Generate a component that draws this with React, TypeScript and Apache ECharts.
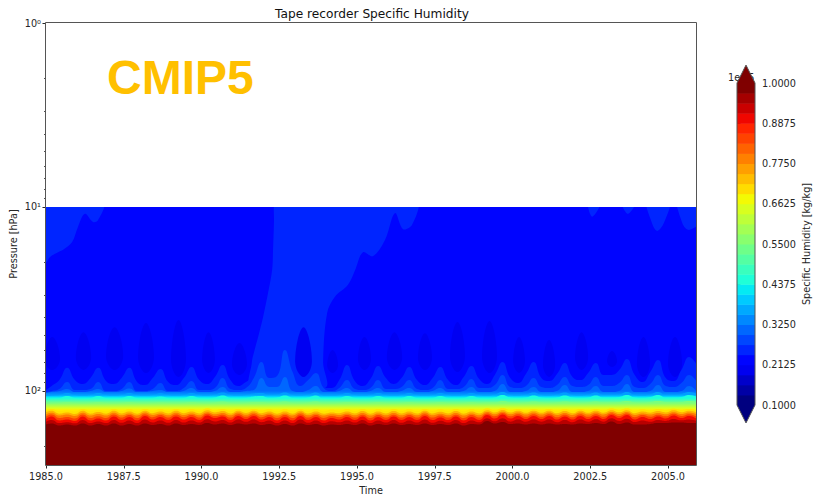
import React, { useEffect, useRef } from "react";
import * as echarts from "echarts";

// ---- axes and labels ----
const titleText = "Tape recorder Specific Humidity";
const xName = "Time";
const yName = "Pressure [hPa]";
const cbName = "Specific Humidity [kg/kg]";
const xTicks = [1985, 1987.5, 1990, 1992.5, 1995, 1997.5, 2000, 2002.5, 2005];
const yTicks = [1, 10, 100];
const yTickLabels: Record<string, string> = { "1": "10⁰", "10": "10¹", "100": "10²" };
const yMinorTicks = [2, 3, 4, 5, 6, 7, 8, 9, 20, 30, 40, 50, 60, 70, 80, 90, 200];
const cbTicks = [0.1, 0.2125, 0.325, 0.4375, 0.55, 0.6625, 0.775, 0.8875, 1.0];
const YEARS = 21;

// ---- sample times of the contour lines ----
const times: number[] = [1985];
for (let y = 0; y < YEARS; y++) for (const f of [0.18, 0.43, 0.68, 0.93]) times.push(1985 + y + f);

// ---- contour pressures in hPa, 1985.0 then four samples per year ----
const contour1 = [98.8,
  93.9, 87.2, 74.9, 87.2, 91.6, 85.0, 74.9, 88.2, 91.6, 85.0, 74.9, 89.3, 92.8, 85.0, 75.9, 89.3,
  92.8, 85.0, 74.0, 87.2, 91.6, 83.9, 72.2, 87.2, 93.9, 89.3, 85.0, 85.0, 85.0, 85.0, 85.0, 88.2,
  93.9, 90.5, 85.0, 96.3, 96.3, 87.2, 72.2, 88.2, 93.9, 86.1, 73.1, 85.0, 91.6, 85.0, 74.0, 87.2,
  92.8, 85.0, 74.0, 87.2, 92.8, 83.9, 73.1, 86.1, 91.6, 81.8, 69.6, 85.0, 90.5, 80.8, 69.6, 85.0,
  88.2, 80.8, 70.4, 83.9, 87.2, 79.8, 70.4, 81.8, 81.8, 76.9, 67.0, 81.8, 89.3, 78.8, 67.8, 85.0,
  88.2, 76.9, 65.3, 72.2];
const contour2 = [101.3,
  100, 97.5, 89.3, 98.8, 98.8, 97.5, 89.3, 100, 100, 97.5, 89.3, 100, 100, 97.5, 90.5, 100,
  100, 96.3, 88.2, 98.8, 98.8, 96.3, 85.0, 97.5, 98.8, 96.3, 85.0, 69.6, 85.0, 82.9, 59.9, 78.8,
  93.9, 87.2, 79.8, 96.3, 100, 96.3, 87.2, 97.5, 98.8, 96.3, 87.2, 97.5, 97.5, 95.1, 87.2, 97.5,
  98.8, 96.3, 87.2, 97.5, 97.5, 95.1, 86.1, 96.3, 96.3, 92.8, 81.8, 95.1, 96.3, 93.9, 85.0, 95.1,
  96.3, 92.8, 83.9, 93.9, 95.1, 92.8, 83.9, 93.9, 93.9, 90.5, 81.8, 95.1, 96.3, 91.6, 81.8, 93.9,
  95.1, 90.5, 81.8, 89.3];
const contour3 = [102.5,
  101.3, 100, 97.5, 101.3, 101.3, 100, 97.5, 101.3, 101.3, 100, 96.9, 101.3, 101.3, 100, 98.8, 101.3,
  101.3, 100, 96.3, 101.3, 101.3, 100, 95.1, 101.3, 101.3, 100, 98.8, 85.0, 95.1, 95.1, 83.9, 100,
  101.3, 98.8, 93.9, 101.3, 101.3, 100, 96.3, 101.3, 101.3, 100, 96.3, 101.3, 101.3, 100, 96.3, 101.3,
  101.3, 100, 96.3, 101.3, 101.3, 100, 95.1, 101.3, 101.3, 100, 91.6, 101.3, 101.3, 100, 95.1, 101.3,
  101.3, 100, 92.8, 101.3, 101.3, 100, 93.9, 101.3, 101.3, 100, 91.6, 101.3, 101.3, 100, 92.8, 101.3,
  101.3, 100, 93.9, 101.3];
const contour4 = [106.5,
  105.8, 105.1, 102.5, 105.1, 105.8, 105.1, 102.5, 105.1, 105.8, 105.1, 102.5, 105.1, 105.8, 105.1, 102.9, 105.1,
  105.8, 105.1, 102.5, 105.1, 105.8, 104.5, 101.9, 105.1, 105.8, 105.1, 103.2, 102.5, 105.1, 104.5, 101.9, 105.1,
  105.8, 104.5, 101.9, 105.8, 105.8, 105.1, 102.5, 105.1, 105.8, 105.1, 102.5, 105.1, 105.8, 105.1, 102.5, 105.1,
  105.8, 105.1, 102.5, 105.1, 105.8, 105.1, 102.5, 105.1, 105.8, 104.5, 101.3, 105.1, 105.8, 104.5, 101.9, 105.1,
  105.8, 104.5, 101.9, 105.1, 105.8, 104.5, 101.9, 105.1, 105.1, 104.5, 101.3, 105.1, 105.8, 104.5, 101.3, 105.1,
  105.1, 103.8, 101.3, 103.8];
const contour5 = [111.2,
  110.5, 109.2, 106.5, 109.2, 110.5, 109.2, 106.5, 109.2, 110.5, 109.2, 106.5, 109.2, 110.5, 109.2, 107.2, 109.2,
  110.5, 109.2, 106.5, 109.2, 110.5, 108.5, 105.8, 109.2, 110.5, 109.2, 107.2, 106.5, 109.2, 108.5, 105.8, 109.2,
  110.5, 108.5, 105.8, 110.5, 110.5, 109.2, 106.5, 109.2, 110.5, 109.2, 106.5, 109.2, 110.5, 109.2, 106.5, 109.2,
  110.5, 109.2, 106.5, 109.2, 110.5, 109.2, 106.5, 109.2, 110.5, 108.5, 105.1, 108.5, 109.2, 108.5, 105.8, 108.5,
  109.2, 108.5, 105.8, 108.5, 109.2, 108.5, 105.8, 108.5, 108.5, 107.8, 105.1, 108.5, 109.2, 107.8, 105.1, 108.5,
  108.5, 107.8, 105.1, 107.8];
const contour6 = [117.7,
  116.9, 116.2, 114.8, 116.2, 116.9, 116.2, 114.8, 116.2, 116.9, 116.2, 114.8, 116.2, 116.9, 116.2, 115.5, 116.2,
  116.9, 116.2, 114.8, 116.2, 116.9, 115.5, 114.1, 116.2, 116.9, 116.2, 114.8, 114.8, 116.2, 115.5, 114.1, 116.2,
  116.9, 115.5, 114.1, 116.9, 116.9, 116.2, 114.8, 116.2, 116.9, 116.2, 114.8, 116.2, 116.9, 116.2, 114.8, 116.2,
  116.9, 116.2, 114.8, 116.2, 116.9, 116.2, 114.8, 116.2, 115.5, 115.5, 113.3, 115.5, 116.2, 115.5, 114.1, 115.5,
  116.2, 115.5, 114.1, 115.5, 116.2, 115.5, 114.1, 115.5, 115.5, 114.8, 113.3, 115.5, 116.2, 114.8, 113.3, 114.8,
  115.5, 114.8, 113.3, 114.8];
const contour7 = [127.7,
  125.3, 128.5, 127.7, 129.3, 125.3, 128.5, 126.9, 128.9, 125.3, 128.5, 125.7, 128.9, 125.3, 128.1, 125.7, 128.5,
  125.3, 128.1, 125.7, 128.5, 124.5, 127.3, 125.3, 128.5, 125.3, 127.7, 125.3, 127.7, 125.7, 128.9, 125.7, 128.9,
  125.3, 128.5, 125.7, 128.9, 126.5, 128.1, 125.7, 128.5, 125.3, 128.9, 125.7, 128.5, 125.3, 128.5, 125.7, 128.5,
  125.3, 128.5, 125.7, 128.5, 125.3, 128.9, 125.7, 128.5, 124.5, 127.3, 124.1, 127.3, 125.3, 127.7, 125.3, 127.7,
  125.3, 128.1, 125.7, 128.1, 125.3, 127.7, 125.3, 127.7, 124.5, 126.9, 124.5, 128.1, 125.7, 127.7, 125.3, 126.9,
  124.9, 126.9, 125.3, 127.7];
const contour75 = [130.5,
  128.3, 132.9, 131.0, 133.4, 128.3, 132.9, 130.2, 132.9, 128.3, 132.5, 129.5, 132.9, 128.0, 132.1, 129.5, 132.5,
  128.3, 132.1, 129.5, 132.5, 127.5, 130.8, 128.7, 132.5, 128.0, 131.6, 128.0, 132.1, 129.5, 132.9, 129.5, 132.9,
  128.0, 132.5, 129.5, 132.9, 130.8, 132.1, 129.5, 132.5, 128.7, 132.9, 129.5, 132.5, 128.7, 132.5, 129.5, 132.5,
  128.0, 132.5, 129.9, 132.5, 128.7, 132.9, 129.5, 132.5, 127.2, 130.8, 126.8, 130.8, 128.0, 131.2, 128.0, 131.2,
  128.0, 132.1, 128.7, 132.1, 128.0, 131.2, 128.0, 131.2, 127.2, 130.5, 127.2, 132.1, 129.5, 131.2, 128.7, 130.8,
  127.5, 130.5, 128.0, 131.2];
const contour8 = [134.2,
  131.3, 135.9, 134.2, 136.7, 131.3, 135.9, 133.4, 135.9, 131.3, 135.5, 132.5, 135.9, 130.9, 135.0, 132.5, 135.5,
  131.3, 135.0, 132.5, 135.5, 130.5, 133.8, 131.7, 135.5, 130.9, 134.6, 130.9, 135.0, 132.5, 135.9, 132.5, 135.9,
  130.9, 135.5, 132.5, 135.9, 133.8, 135.0, 132.5, 135.5, 131.7, 135.9, 132.5, 135.5, 131.7, 135.5, 132.5, 135.5,
  130.9, 135.5, 132.9, 135.5, 131.7, 135.9, 132.5, 135.5, 130.1, 133.8, 129.7, 133.8, 130.9, 134.2, 130.9, 134.2,
  130.9, 135.0, 131.7, 135.0, 130.9, 134.2, 130.9, 134.2, 130.1, 133.4, 130.1, 135.0, 132.5, 134.2, 131.7, 133.8,
  130.5, 133.4, 130.9, 134.2];
const contour85 = [138.0,
  134.3, 140.2, 138.4, 141.0, 134.3, 140.2, 137.2, 140.2, 134.3, 139.6, 135.3, 140.2, 133.7, 138.9, 135.3, 139.6,
  134.3, 138.9, 135.3, 139.6, 133.1, 137.0, 134.5, 139.6, 133.7, 138.2, 133.7, 138.9, 135.3, 140.2, 135.3, 140.2,
  133.7, 139.6, 135.3, 140.2, 137.0, 138.9, 135.3, 139.6, 134.5, 140.2, 135.3, 139.6, 134.5, 139.6, 135.3, 139.6,
  133.7, 139.6, 136.0, 139.6, 134.5, 140.2, 135.3, 139.6, 132.5, 137.4, 131.9, 137.4, 133.7, 138.1, 133.7, 138.1,
  133.7, 138.9, 134.5, 138.9, 133.7, 138.1, 133.7, 138.1, 132.5, 136.7, 132.5, 138.9, 135.3, 138.1, 134.5, 137.4,
  133.1, 136.7, 133.7, 138.1];
const contour9 = [142.0,
  137.6, 144.7, 142.9, 145.6, 137.6, 144.7, 141.1, 144.7, 137.6, 143.8, 138.5, 144.7, 136.7, 142.9, 138.5, 143.8,
  137.6, 142.9, 138.5, 143.8, 135.9, 140.2, 137.6, 143.8, 136.7, 142.0, 136.7, 142.9, 138.5, 144.7, 138.5, 144.7,
  136.7, 143.8, 138.5, 144.7, 140.2, 142.9, 138.5, 143.8, 137.6, 144.7, 138.5, 143.8, 137.6, 143.8, 138.5, 143.8,
  136.7, 143.8, 139.3, 143.8, 137.6, 144.7, 138.5, 143.8, 135.0, 141.1, 134.2, 141.1, 136.7, 142.0, 136.7, 142.0,
  136.7, 142.9, 137.6, 142.9, 136.7, 142.0, 136.7, 142.0, 135.0, 140.2, 135.0, 142.9, 138.5, 142.0, 137.6, 141.1,
  135.9, 140.2, 136.7, 142.0];
const contour95 = [147.0,
  143.7, 149.5, 148.0, 150.0, 143.7, 149.5, 146.5, 149.5, 143.7, 149.0, 144.7, 149.5, 143.0, 148.3, 144.7, 149.0,
  143.7, 148.3, 144.7, 148.5, 142.5, 146.5, 143.7, 148.5, 143.0, 147.2, 143.0, 147.8, 144.7, 149.5, 144.7, 149.5,
  143.0, 149.0, 144.7, 149.5, 146.0, 148.0, 144.7, 148.5, 143.7, 149.5, 144.7, 148.5, 143.7, 149.0, 144.7, 148.5,
  143.0, 149.0, 145.2, 148.5, 143.7, 149.5, 144.7, 148.0, 140.5, 146.2, 140.8, 146.8, 142.8, 147.0, 143.0, 147.0,
  143.0, 147.8, 143.7, 147.8, 143.0, 147.0, 142.5, 146.8, 140.8, 145.5, 141.5, 147.5, 144.7, 147.0, 143.7, 145.5,
  142.0, 144.5, 143.0, 145.8];
const contour10 = [152.1,
  150.2, 154.0, 152.1, 154.0, 150.2, 154.0, 151.2, 154.0, 150.2, 154.0, 151.2, 154.0, 150.2, 153.0, 151.2, 154.0,
  150.2, 153.0, 151.2, 153.0, 149.3, 152.1, 150.2, 153.0, 150.2, 152.1, 150.2, 153.0, 151.2, 154.0, 151.2, 154.0,
  150.2, 153.0, 151.2, 154.0, 152.1, 153.0, 151.2, 153.0, 150.2, 154.0, 151.2, 153.0, 150.2, 153.0, 151.2, 153.0,
  150.2, 153.0, 151.2, 153.0, 150.2, 154.0, 151.2, 152.1, 145.6, 150.2, 147.4, 151.2, 150.2, 152.1, 150.2, 152.1,
  150.2, 152.1, 151.2, 152.1, 150.2, 151.2, 149.3, 151.2, 146.5, 151.2, 148.3, 152.1, 152.1, 151.2, 149.3, 149.3,
  148.3, 148.3, 149.3, 149.3];

// ---- lighter regions in the upper part: [time, hPa] outlines ----
const regionLeftTop = [[1984.8, 9], [1984.8, 21], [1985, 20.1], [1985.13, 18.7], [1985.39, 17.6], [1985.55, 17.1], [1985.84, 15.5], [1986.03, 12.8], [1986.25, 10.9], [1986.51, 12.06], [1986.67, 11.8], [1986.83, 9.5]];
const regionMiddle = [[1996.5, 8], [1992.5, 8], [1992.34, 9.5], [1992.33, 12], [1992.3, 17.1], [1992.27, 22], [1992.14, 29.3], [1991.98, 39.6], [1991.82, 50.9], [1991.69, 61.4], [1991.62, 69.6], [1991.6, 96.3], [1993.97, 96.3], [1993.91, 69.6], [1994.04, 37.7], [1994.29, 30.8], [1994.71, 26.5], [1994.94, 22], [1995.19, 17.6], [1995.51, 18.5], [1995.9, 15.1], [1996.22, 10.8], [1996.48, 13.2], [1996.77, 12.5], [1996.99, 9]];
const regionLobe1 = [[2002.43, 9], [2002.56, 11.3], [2002.88, 9]];
const regionLobe2 = [[2003.49, 9], [2003.71, 10.9], [2004.0, 9]];
const regionLobe3 = [[2004.32, 9], [2004.48, 12.2], [2004.65, 13.5], [2004.87, 12.2], [2005.06, 9]];
const regionLobe4 = [[2005.32, 9], [2005.45, 12.1], [2005.64, 13.3], [2005.9, 12.8], [2006.2, 12.0], [2006.2, 9]];

// ---- darker pockets: left time, right time, top hPa, bottom hPa ----
const pocketLeft = [1984.95, 1985.96, 1986.93, 1987.96, 1989.02, 1990.02, 1990.98, 1993.01, 1994.04, 1995.03, 1995.96, 1996.96, 1997.99, 1999.02, 2000.02, 2000.98, 2002.01, 2003.04, 2004.0, 2005.0];
const pocketRight = [1985.45, 1986.45, 1987.48, 1988.47, 1989.5, 1990.43, 1991.46, 1993.55, 1994.39, 1995.45, 1996.45, 1997.41, 1998.47, 1999.5, 2000.4, 2001.37, 2002.43, 2003.36, 2004.42, 2005.45];
const pocketTop = [50.9, 47.9, 45.0, 42.7, 41.1, 47.9, 54.9, 45.0, 59.9, 50.9, 47.9, 48.5, 42.2, 41.6, 50.9, 52.9, 47.9, 60.7, 50.9, 50.9];
const pocketBottom = [76.9, 76.9, 76.9, 79.8, 83.9, 79.8, 81.8, 83.9, 79.8, 76.9, 76.9, 76.9, 78.8, 79.8, 79.8, 83.9, 76.9, 74.0, 83.9, 83.9];

// ---- layout ----
const G = { left: 46, top: 23, width: 650, height: 442 };
const DECADE = 184;
const FONT = "DejaVu Sans";
const INK = "#262626";

function seg(t: number, pts: number[][]) {
  if (t <= pts[0][0]) return pts[0][1];
  for (let i = 1; i < pts.length; i++) {
    if (t <= pts[i][0]) {
      const [a, b] = [pts[i - 1], pts[i]];
      return a[1] + ((t - a[0]) / (b[0] - a[0])) * (b[1] - a[1]);
    }
  }
  return pts[pts.length - 1][1];
}
function jet(t: number) {
  const r = seg(t, [[0, 0], [0.35, 0], [0.66, 1], [0.89, 1], [1, 0.5]]);
  const g = seg(t, [[0, 0], [0.125, 0], [0.375, 1], [0.64, 1], [0.91, 0], [1, 0]]);
  const b = seg(t, [[0, 0.5], [0.11, 1], [0.34, 1], [0.65, 0], [1, 0]]);
  return `rgb(${Math.round(r * 255)},${Math.round(g * 255)},${Math.round(b * 255)})`;
}
const median = (a: number[]) => [...a].sort((x, y) => x - y)[Math.floor(a.length / 2)];
const pToY = (p: number) => G.top + Math.log10(p) * DECADE;

const flatContours = [
  { data: contour1, t: 5 / 31 },
  { data: contour2, t: 6 / 31 },
];
const gradContours = [
  { data: contour3, t: 7 / 31 },
  { data: contour4, t: 0.28 },
  { data: contour5, t: 0.38 },
  { data: contour6, t: 0.5 },
  { data: contour7, t: 0.66 },
];
const lowerContours = [
  { data: contour7, t: 0.67 },
  { data: contour75, t: 0.72 },
  { data: contour8, t: 0.78 },
  { data: contour85, t: 0.84 },
  { data: contour9, t: 0.9 },
  { data: contour95, t: 0.95 },
  { data: contour10, t: 1 },
];

function lineBase(data: number[][]) {
  return {
    type: "line" as const,
    data,
    xAxisIndex: 0,
    yAxisIndex: 0,
    symbol: "none",
    showSymbol: false,
    silent: true,
    lineStyle: { width: 0, opacity: 0 },
    emphasis: { disabled: true },
  };
}

function buildSeries() {
  const edge = [[1984, 10], [2007, 10]];
  const out: any[] = [];
  out.push({ ...lineBase(edge), z: 1, areaStyle: { origin: "end", color: jet(4 / 31), opacity: 1 } });
  const regions = [regionLeftTop, regionMiddle, regionLobe1, regionLobe2, regionLobe3, regionLobe4];
  out.push({
    type: "custom",
    xAxisIndex: 0,
    yAxisIndex: 0,
    silent: true,
    clip: true,
    z: 2,
    data: regions.map((r) => r[0]),
    renderItem: (params: any, api: any) => ({
      type: "polygon",
      shape: { points: regions[params.dataIndex].map((q) => api.coord(q)), smooth: 0.35 },
      style: { fill: jet(5 / 31) },
    }),
  });
  out.push({
    type: "custom",
    xAxisIndex: 0,
    yAxisIndex: 0,
    silent: true,
    clip: true,
    z: 3,
    data: pocketLeft.map((t, i) => [t, pocketTop[i]]),
    renderItem: (params: any, api: any) => {
      const i = params.dataIndex;
      const mid = (pocketLeft[i] + pocketRight[i]) / 2;
      const pMid = pocketTop[i] + (pocketBottom[i] - pocketTop[i]) * 0.62;
      return {
        type: "polygon",
        shape: {
          points: [
            api.coord([mid, pocketTop[i]]),
            api.coord([pocketRight[i], pMid]),
            api.coord([mid, pocketBottom[i]]),
            api.coord([pocketLeft[i], pMid]),
          ],
          smooth: 0.45,
        },
        style: { fill: "rgb(0,0,242)" },
      };
    },
  });
  for (const c of flatContours) {
    out.push({
      ...lineBase(times.map((t, i) => [t, c.data[i]])),
      z: 4,
      smooth: 0.5,
      areaStyle: { origin: "end", color: jet(c.t), opacity: 1 },
    });
  }
  gradContours.forEach((c, k) => {
    const next = gradContours[k + 1];
    let color: any = jet(c.t);
    if (next) {
      const y0 = pToY(median(c.data));
      const y1 = pToY(median(next.data));
      const stops = [0, 0.25, 0.5, 0.75, 1].map((o) => ({ offset: o, color: jet(c.t + (next.t - c.t) * o) }));
      color = new echarts.graphic.LinearGradient(0, y0, 0, y1, stops, true);
    }
    out.push({
      ...lineBase(times.map((t, i) => [t, c.data[i]])),
      z: 4,
      smooth: 0.5,
      areaStyle: { origin: "end", color, opacity: 1 },
    });
  });
  for (const c of lowerContours) {
    out.push({
      ...lineBase(times.map((t, i) => [t, c.data[i]])),
      z: 4,
      smooth: 0.5,
      areaStyle: { origin: "end", color: jet(c.t), opacity: 1 },
    });
  }
  out.push({ ...lineBase(edge), z: 4, areaStyle: { origin: "start", color: "#ffffff", opacity: 1 } });

  // colour bar
  const STEP = (cbTicks[8] - cbTicks[0]) / 32;
  const bandStart: number[] = [];
  for (let i = 0; i < 32; i++) bandStart.push(cbTicks[0] + i * STEP);
  out.push({
    type: "custom",
    xAxisIndex: 1,
    yAxisIndex: 2,
    silent: true,
    clip: false,
    z: 5,
    data: bandStart.map((v) => [0, v]),
    renderItem: (params: any, api: any) => {
      const i = params.dataIndex;
      const a = api.coord([0, bandStart[i]]);
      const b = api.coord([1, bandStart[i] + STEP]);
      return {
        type: "rect",
        shape: { x: a[0], y: b[1], width: b[0] - a[0], height: a[1] - b[1] + 0.5 },
        style: { fill: jet(i / 31) },
      };
    },
  });
  const tips = [
    { base: 1.0, tip: 1.05, color: "#7f0000" },
    { base: 0.1, tip: 0.05, color: "#00007f" },
  ];
  out.push({
    type: "custom",
    xAxisIndex: 1,
    yAxisIndex: 2,
    silent: true,
    clip: false,
    z: 6,
    data: tips.map((t) => [0, t.base]),
    renderItem: (params: any, api: any) => {
      const t = tips[params.dataIndex];
      return {
        type: "polygon",
        shape: { points: [api.coord([0, t.base]), api.coord([0.5, t.tip]), api.coord([1, t.base])] },
        style: { fill: t.color },
      };
    },
  });
  out.push({
    type: "custom",
    xAxisIndex: 1,
    yAxisIndex: 2,
    silent: true,
    clip: false,
    z: 7,
    data: [[0, 0.1]],
    renderItem: (_p: any, api: any) => ({
      type: "polygon",
      shape: {
        points: [
          api.coord([0, 0.1]), api.coord([0, 1]), api.coord([0.5, 1.05]), api.coord([1, 1]),
          api.coord([1, 0.1]), api.coord([0.5, 0.05]),
        ],
      },
      style: { fill: "none", stroke: "#555555", lineWidth: 1 },
    }),
  });
  return out;
}

export default function App() {
  const ref = useRef<HTMLDivElement>(null);
  useEffect(() => {
    document.body.style.margin = "0";
    const chart = echarts.init(ref.current!, undefined, { renderer: "svg" });
    const labelStyle = { color: INK, fontFamily: FONT, fontSize: 9.7 };
    chart.setOption({
      animation: false,
      backgroundColor: "#ffffff",
      title: {
        text: titleText,
        left: 367,
        top: 3,
        textAlign: "center",
        textStyle: { color: "#111111", fontFamily: FONT, fontSize: 12.2, fontWeight: "normal" },
      },
      grid: [
        { left: G.left, top: G.top, width: G.width, height: G.height, outerBoundsMode: "none" },
        { left: 737, top: 83, width: 18, height: 322, outerBoundsMode: "none" },
      ],
      xAxis: [
        {
          type: "value",
          gridIndex: 0,
          min: 1985,
          max: 2005.9,
          name: xName,
          nameLocation: "middle",
          nameGap: 20,
          nameTextStyle: labelStyle,
          splitLine: { show: false },
          axisLine: { show: false },
          axisTick: { length: 3.5, lineStyle: { color: INK }, customValues: xTicks },
          axisLabel: { ...labelStyle, margin: 6, customValues: xTicks, formatter: (v: number) => v.toFixed(1) },
        },
        { type: "value", gridIndex: 1, min: 0, max: 1, show: false },
      ],
      yAxis: [
        {
          type: "log",
          logBase: 10,
          gridIndex: 0,
          inverse: true,
          min: 1,
          max: 252.6,
          name: yName,
          nameLocation: "middle",
          nameGap: 28,
          nameMoveOverlap: false,
          nameTextStyle: labelStyle,
          splitLine: { show: false },
          minorTick: { show: false },
          axisLine: { show: false },
          axisTick: { length: 3.5, lineStyle: { color: INK }, customValues: yTicks },
          axisLabel: {
            ...labelStyle,
            margin: 5,
            customValues: yTicks,
            formatter: (v: number) => yTickLabels[String(Math.round(v))] ?? "",
          },
        },
        {
          type: "log",
          logBase: 10,
          gridIndex: 0,
          inverse: true,
          position: "left",
          min: 1,
          max: 252.6,
          splitLine: { show: false },
          axisLine: { show: false },
          axisLabel: { show: false },
          axisTick: { length: 2, lineStyle: { color: INK, width: 0.8 }, customValues: yMinorTicks },
        },
        {
          type: "value",
          gridIndex: 1,
          position: "right",
          min: 0.1,
          max: 1,
          name: cbName,
          nameLocation: "middle",
          nameRotate: 90,
          nameGap: 46,
          nameTextStyle: labelStyle,
          splitLine: { show: false },
          axisLine: { show: false },
          axisTick: { length: 3.5, lineStyle: { color: INK }, customValues: cbTicks },
          axisLabel: { ...labelStyle, margin: 7, customValues: cbTicks, formatter: (v: number) => v.toFixed(4) },
        },
      ],
      graphic: [
        {
          type: "rect",
          z: 50,
          silent: true,
          shape: { x: G.left - 0.5, y: G.top - 0.5, width: G.width + 1, height: G.height + 1 },
          style: { fill: "none", stroke: "#555555", lineWidth: 1 },
        },
        {
          type: "text",
          z: 50,
          silent: true,
          x: 107,
          y: 77,
          style: {
            text: "CMIP5",
            fill: "#ffc000",
            font: 'bold 48px "Liberation Sans"',
            textVerticalAlign: "middle",
            textBaseline: "middle",
          },
        },
        {
          type: "text",
          z: 0,
          silent: true,
          x: 728,
          y: 77,
          style: {
            text: "1e−5",
            fill: INK,
            font: '9.7px "DejaVu Sans"',
            textVerticalAlign: "middle",
            textBaseline: "middle",
          },
        },
      ],
      series: buildSeries(),
    });
    return () => chart.dispose();
  }, []);
  return <div ref={ref} style={{ position: "fixed", left: 0, top: 0, width: 813, height: 496 }} />;
}
